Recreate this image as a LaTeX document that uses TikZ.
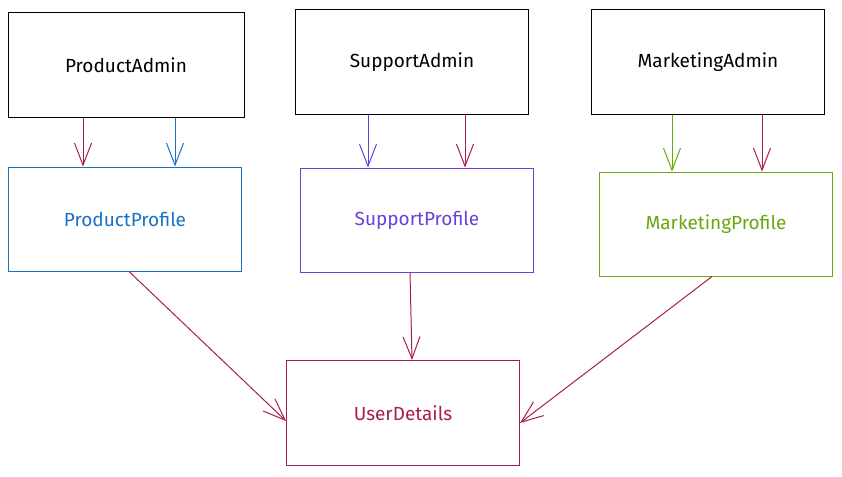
\documentclass[tikz,border=0pt]{standalone}
\usepackage{fontspec}
\setmainfont{Fira Sans}
\usetikzlibrary{arrows.meta,positioning}
\definecolor{crimson}{HTML}{A61E4D}
\definecolor{skyblue}{HTML}{1971C2}
\definecolor{violetx}{HTML}{6741D9}
\definecolor{leafgreen}{HTML}{66A80F}
\begin{document}
\begin{tikzpicture}[x=1pt,y=-1pt,>={Straight Barb[length=22pt,width=17pt,line width=1pt]},
  box/.style={draw,line width=1pt,minimum width=233pt,minimum height=104pt,inner sep=2pt,font=\fontsize{19}{22}\selectfont},
  link/.style={->,line width=1pt}]
\useasboundingbox (0,0) rectangle (842,476);
\node[box,draw=black,minimum width=236pt] (padmin) at (126,65) {ProductAdmin};
\node[box,draw=black] (sadmin) at (412,62) {SupportAdmin};
\node[box,draw=black] (madmin) at (708,62) {MarketingAdmin};
\node[box,draw=skyblue,text=skyblue] (pprof) at (125,219) {ProductProfile};
\node[box,draw=violetx,text=violetx] (sprof) at (417,220) {SupportProfile};
\node[box,draw=leafgreen,text=leafgreen] (mprof) at (716,224) {MarketingProfile};
\node[box,draw=crimson,text=crimson,minimum height=105pt] (user) at (403,413) {UserDetails};
\draw[link,crimson] ([xshift=-43pt]padmin.south)--([xshift=-42pt]pprof.north);
\draw[link,skyblue] ([xshift=49pt]padmin.south)--([xshift=50pt]pprof.north);
\draw[link,violetx] ([xshift=-44pt]sadmin.south)--([xshift=-49pt]sprof.north);
\draw[link,crimson] ([xshift=53pt]sadmin.south)--([xshift=48pt]sprof.north);
\draw[link,leafgreen] ([xshift=-36pt]madmin.south)--([xshift=-44pt]mprof.north);
\draw[link,crimson] ([xshift=54pt]madmin.south)--([xshift=46pt]mprof.north);
\draw[link,crimson] ([xshift=4pt]pprof.south)--([yshift=-8pt]user.west);
\draw[link,crimson] ([xshift=-7pt]sprof.south)--([xshift=9pt]user.north);
\draw[link,crimson] ([xshift=-4pt]mprof.south)--([yshift=-10pt]user.east);
\end{tikzpicture}
\end{document}
